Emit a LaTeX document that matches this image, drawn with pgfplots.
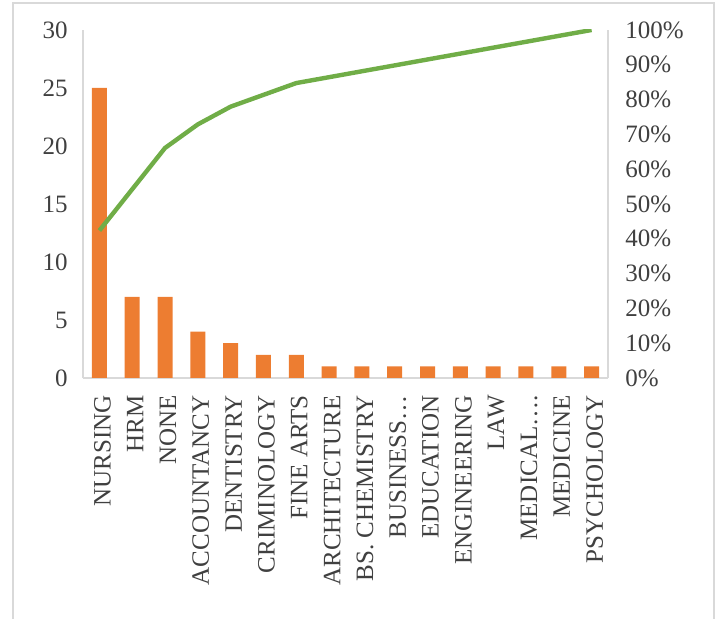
\documentclass[border=0pt]{standalone}
\usepackage{pgfplots}
\pgfplotsset{compat=1.18}
\usepackage{fontspec}
\setmainfont{Liberation Serif}
\definecolor{barorange}{HTML}{ED7D31}
\definecolor{linegreen}{HTML}{70AD47}
\definecolor{framegray}{HTML}{D9D9D9}
\definecolor{txt}{HTML}{404040}
\begin{document}
\fontsize{12.5bp}{15bp}\selectfont
\begin{tikzpicture}
\path[use as bounding box] (0bp,0bp) rectangle (358.5bp,309.5bp);
\draw[framegray,line width=0.8bp] (6.5bp,0bp) -- (6.5bp,308bp) -- (357bp,308bp) -- (357bp,0bp);
\begin{axis}[
  at={(41.5bp,120.5bp)}, anchor=south west,
  scale only axis, width=262.5bp, height=174bp,
  xmin=-0.5, xmax=15.5, ymin=0, ymax=30,
  axis x line*=bottom, axis y line*=left,
  axis line style={draw=framegray, line width=0.6bp},
  major tick length=0pt,
  xtick={0,...,15},
  xticklabels={NURSING,HRM,NONE,ACCOUNTANCY,DENTISTRY,CRIMINOLOGY,FINE ARTS,ARCHITECTURE,BS. CHEMISTRY,BUSINESS…,EDUCATION,ENGINEERING,LAW,MEDICAL….,MEDICINE,PSYCHOLOGY},
  xticklabel style={yshift=-8.5bp, xshift=1.5bp, rotate=90, anchor=east, inner sep=0pt, text=txt, font=\fontsize{12.5bp}{15bp}\selectfont},
  xtick style={draw=none},
  ytick={0,5,...,30},
  yticklabels={0,5,10,15,20,25,30},
  yticklabel style={xshift=-7.5bp, text=txt, anchor=east, inner sep=0pt, font=\fontsize{12.5bp}{15bp}\selectfont},
  ytick style={draw=none},
]
\addplot[ybar, bar width=7.5bp, bar shift=0pt, fill=barorange, draw=none] coordinates {
(0,25) (1,7) (2,7) (3,4) (4,3) (5,2) (6,2) (7,1) (8,1) (9,1) (10,1) (11,1) (12,1) (13,1) (14,1) (15,1)};
\end{axis}
\begin{axis}[
  at={(41.5bp,120.5bp)}, anchor=south west,
  scale only axis, width=262.5bp, height=174bp,
  xmin=-0.5, xmax=15.5, ymin=0, ymax=100,
  axis x line=none, axis y line*=right,
  axis line style={draw=framegray, line width=0.6bp},
  major tick length=0pt,
  ytick={0,10,...,100},
  yticklabels={0\%,10\%,20\%,30\%,40\%,50\%,60\%,70\%,80\%,90\%,100\%},
  yticklabel style={text=txt, anchor=west, inner sep=0pt, xshift=8.5bp, font=\fontsize{12.5bp}{15bp}\selectfont},
  ytick style={draw=none},
]
\addplot[linegreen, line width=2.2bp, line join=round, mark=none] coordinates {
(0,42.37) (1,54.24) (2,66.10) (3,72.88) (4,77.97) (5,81.36) (6,84.75) (7,86.44) (8,88.14) (9,89.83) (10,91.53) (11,93.22) (12,94.92) (13,96.61) (14,98.31) (15,100)};
\end{axis}
\end{tikzpicture}
\end{document}
